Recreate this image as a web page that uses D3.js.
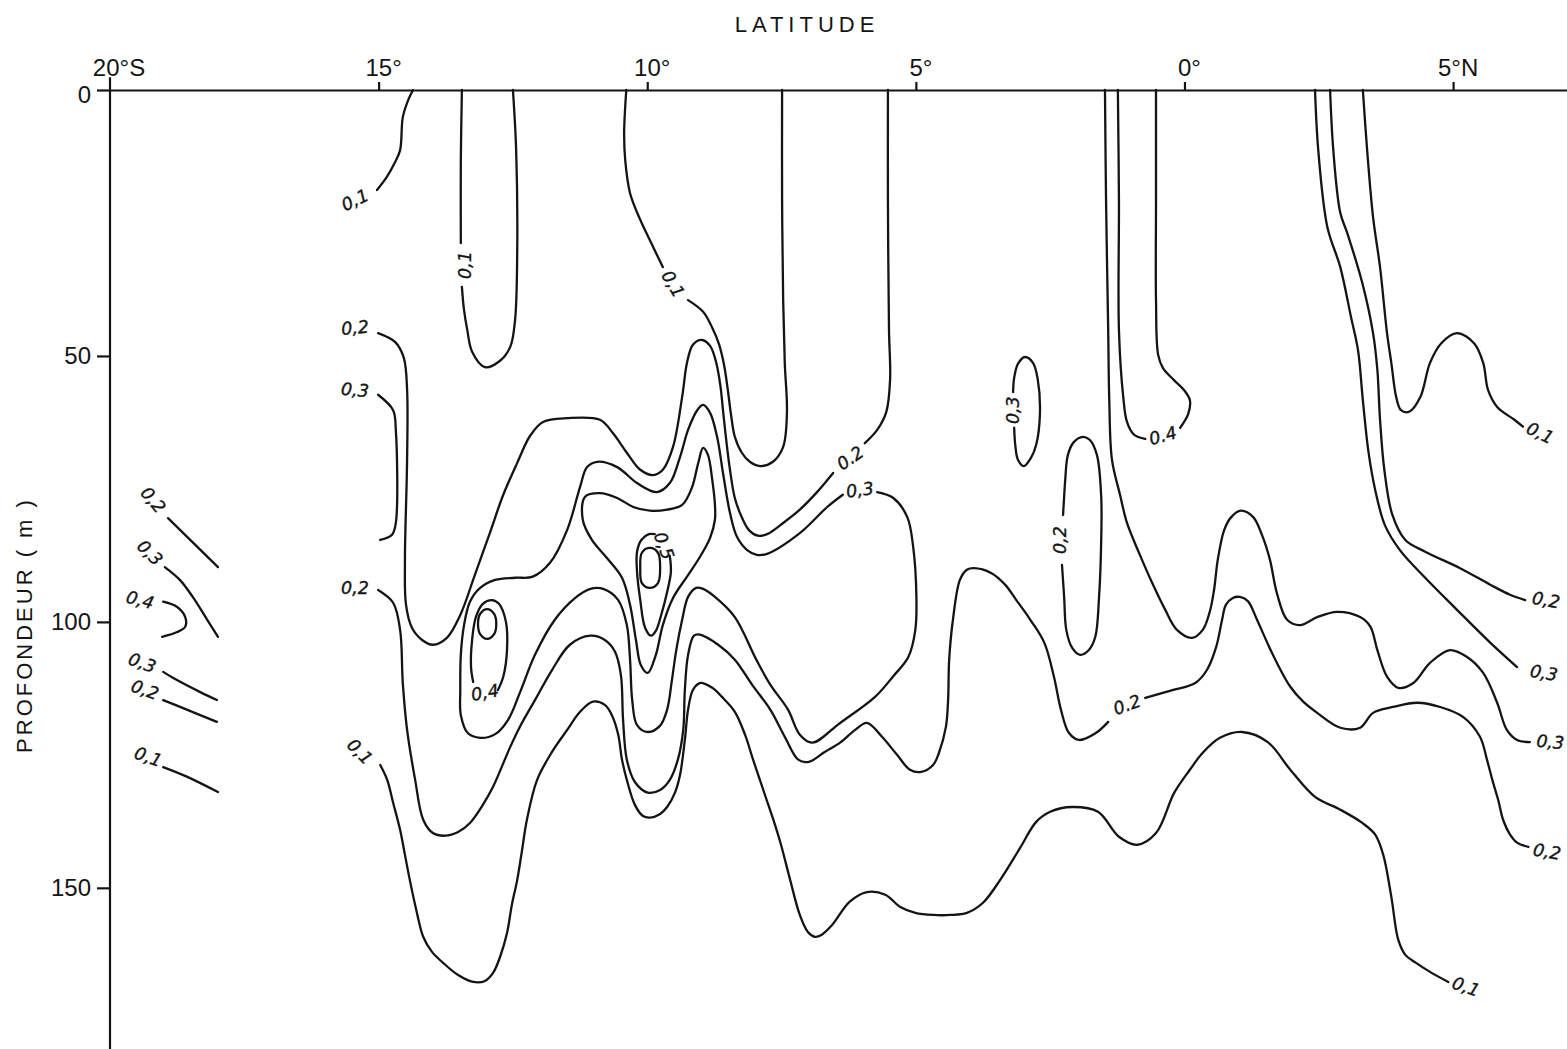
<!DOCTYPE html>
<html>
<head>
<meta charset="utf-8">
<script src="https://cdn.jsdelivr.net/npm/d3@7"></script>
<style>
  html, body { margin: 0; background: #fff; }
  svg { display: block; }
</style>
</head>
<body>
<svg id="chart" width="1567" height="1049"></svg>
<script>
// ---- axes ---------------------------------------------------------------
// latitude in degrees (negative = south), depth in metres
const latTicks = [-20, -15, -10, -5, 0, 5];
const latTickLabels = ["20°S", "15°", "10°", "5°", "0°", "5°N"];
const depthTicks = [0, 50, 100, 150];
const depthTickLabels = ["0", "50", "100", "150"];

// ---- isolines: [latitude, depth] vertices -------------------------------
// 0,1 tongue reaching the surface near 15°S
const iso01_a = [[-14.36,0],[-14.45,1.9],[-14.55,5.1],[-14.60,11.3],[-14.70,13.7],[-14.85,16.4],[-15.03,18.8]];
// narrow 0,1 tongue near 13°S (two pieces either side of its label)
const iso01_b1 = [[-13.45,0],[-13.47,13.2],[-13.47,28.8]];
const iso01_b2 = [[-13.45,37.0],[-13.41,41.4],[-13.35,45.1],[-13.26,49.2],[-13.02,52.1],[-12.74,50.9],[-12.55,48.3],[-12.46,43.2],[-12.42,30.1],[-12.44,11.3],[-12.50,0]];
// 0,1 tongue near 10°S
const iso01_c1 = [[-10.39,0],[-10.43,8.1],[-10.41,13.2],[-10.32,19.4],[-10.13,24.4],[-9.89,29.5],[-9.71,33.3]];
const iso01_c2 = [[-9.24,39.5],[-8.96,41.7],[-8.79,44.7],[-8.66,47.9],[-8.57,51.7],[-8.50,56.4],[-8.44,61.1],[-8.37,65.2],[-8.24,68.2],[-8.09,69.9],[-7.90,70.7],[-7.66,69.9],[-7.47,67.1],[-7.40,60.7],[-7.44,51.3],[-7.47,39.5],[-7.49,20.7],[-7.49,0]];
// deep 0,1 isoline running across the section
const iso01_deep = [[-14.97,126.9],[-14.84,129.7],[-14.73,134.0],[-14.60,139.1],[-14.51,143.8],[-14.42,148.5],[-14.30,154.1],[-14.17,159.2],[-14.01,162.0],[-13.80,164.1],[-13.52,166.4],[-13.24,167.7],[-13.02,167.5],[-12.87,166.0],[-12.74,163.0],[-12.61,158.5],[-12.52,153.2],[-12.42,148.5],[-12.33,142.9],[-12.24,137.2],[-12.05,129.7],[-11.77,124.4],[-11.49,120.3],[-11.25,116.9],[-11.01,115.0],[-10.79,115.6],[-10.66,117.5],[-10.54,121.2],[-10.47,125.9],[-10.38,129.7],[-10.23,134.4],[-10.08,136.5],[-9.95,136.8],[-9.76,136.1],[-9.63,134.8],[-9.48,132.0],[-9.39,128.8],[-9.30,122.2],[-9.24,116.5],[-9.15,112.8],[-9.02,111.5],[-8.79,112.4],[-8.61,114.1],[-8.37,116.9],[-8.18,121.2],[-8.03,125.9],[-7.81,132.5],[-7.62,138.2],[-7.51,141.9],[-7.34,148.5],[-7.16,155.1],[-7.01,158.3],[-6.88,159.2],[-6.75,158.8],[-6.56,157.0],[-6.23,152.6],[-5.91,150.8],[-5.57,151.3],[-5.29,153.6],[-5.01,154.7],[-4.68,155.1],[-4.36,155.1],[-4.05,154.7],[-3.75,152.8],[-3.43,148.5],[-3.06,142.5],[-2.76,137.6],[-2.50,135.7],[-2.09,134.8],[-1.61,135.7],[-1.22,140.4],[-0.88,141.9],[-0.53,139.7],[-0.19,132.1],[0.10,127.8],[0.34,124.6],[0.66,121.8],[1.07,120.7],[1.55,122.6],[1.97,127.8],[2.43,132.9],[2.90,135.3],[3.31,137.8],[3.55,140.0],[3.70,143.8],[3.85,151.7],[3.98,159.8],[4.11,162.6],[4.31,164.1],[4.57,165.8],[4.91,167.7]];
// 0,1 isoline north of the equator
const iso01_north = [[3.32,0],[3.40,11.3],[3.51,23.9],[3.64,33.3],[3.77,45.7],[3.85,51.3],[3.94,57.7],[4.03,60.2],[4.18,60.5],[4.39,57.7],[4.57,51.3],[4.78,47.6],[5.07,45.7],[5.39,47.6],[5.56,51.3],[5.65,56.4],[5.82,59.6],[6.14,62.0],[6.30,63.3]];

// upper 0,2 isoline (15°S to 5°S), split at its label
const iso02_a1 = [[-15.01,45.7],[-14.69,47.4],[-14.53,50.4],[-14.47,56.4],[-14.47,69.5],[-14.51,88.3],[-14.49,96.8],[-14.38,101.1],[-14.19,103.4],[-13.99,104.3],[-13.73,103.0],[-13.48,98.7],[-13.21,91.2],[-12.93,83.3],[-12.68,76.1],[-12.42,70.1],[-12.18,65.0],[-11.94,62.4],[-11.49,61.7],[-10.88,62.0],[-10.64,64.5],[-10.38,68.2],[-10.13,71.4],[-9.89,72.4],[-9.71,71.4],[-9.52,67.1],[-9.35,57.7],[-9.26,51.3],[-9.15,47.9],[-8.98,47.0],[-8.83,48.1],[-8.72,51.1],[-8.64,55.5],[-8.59,60.2],[-8.53,65.8],[-8.46,71.4],[-8.37,76.7],[-8.25,80.1],[-8.11,82.7],[-7.94,83.8],[-7.77,83.5],[-7.47,81.4],[-7.16,78.9],[-6.84,75.6],[-6.54,72.0]];
const iso02_a2 = [[-5.95,66.4],[-5.72,63.9],[-5.55,60.5],[-5.48,54.5],[-5.50,45.1],[-5.52,20.7],[-5.52,0]];
// lower 0,2 isoline crossing the whole section, split at its label near 1°S
const iso02_b1 = [[-15.01,94.0],[-14.73,96.4],[-14.60,101.5],[-14.55,111.5],[-14.47,120.3],[-14.32,129.7],[-14.17,137.2],[-13.99,139.7],[-13.76,140.2],[-13.52,139.5],[-13.30,137.8],[-13.06,134.4],[-12.87,131.0],[-12.55,123.5],[-12.37,119.7],[-12.09,114.7],[-11.77,109.0],[-11.44,104.3],[-11.06,102.6],[-10.79,103.4],[-10.60,105.6],[-10.49,110.0],[-10.45,118.4],[-10.38,125.9],[-10.23,130.1],[-9.99,132.1],[-9.76,131.6],[-9.58,129.7],[-9.43,125.9],[-9.33,120.3],[-9.30,112.8],[-9.24,106.2],[-9.13,102.6],[-9.02,102.4],[-8.68,104.3],[-8.37,107.1],[-8.05,111.8],[-7.71,116.5],[-7.43,121.8],[-7.19,125.9],[-6.99,126.3],[-6.69,124.4],[-6.41,122.7],[-6.13,120.3],[-5.91,119.0],[-5.63,121.6],[-5.35,125.0],[-5.11,127.8],[-4.90,128.2],[-4.68,126.9],[-4.57,124.6],[-4.44,119.7],[-4.40,114.7],[-4.38,107.1],[-4.31,99.6],[-4.18,92.1],[-4.05,90.2],[-3.92,89.9],[-3.60,90.8],[-3.34,93.0],[-3.13,95.9],[-2.87,99.6],[-2.61,103.9],[-2.43,110.3],[-2.30,116.5],[-2.15,120.9],[-1.96,122.2],[-1.65,120.9],[-1.42,118.8]];
const iso02_b2 = [[-0.73,114.3],[-0.21,112.8],[0.20,111.5],[0.42,109.0],[0.59,104.7],[0.70,99.6],[0.77,96.8],[0.90,95.5],[1.03,95.3],[1.18,96.1],[1.35,99.6],[1.54,103.9],[1.74,108.1],[1.97,112.2],[2.21,115.0],[2.47,117.1],[2.90,119.9],[3.27,119.9],[3.51,117.1],[3.88,116.0],[4.33,115.2],[4.76,116.0],[5.19,117.9],[5.50,121.6],[5.63,125.9],[5.73,129.7],[5.84,133.5],[5.93,137.2],[6.06,140.0],[6.19,141.5],[6.40,142.3]];
// 0,2 closed cell near 2°S (open where its label sits)
const iso02_cell = [[-2.28,89.3],[-2.24,95.3],[-2.20,101.5],[-2.09,104.9],[-1.94,106.2],[-1.78,105.3],[-1.66,102.8],[-1.59,95.3],[-1.55,84.6],[-1.55,76.5],[-1.63,68.6],[-1.76,65.8],[-1.89,65.2],[-2.06,66.2],[-2.17,68.6],[-2.22,73.3],[-2.26,79.9]];
// 0,2 isoline north of the equator
const iso02_north = [[2.71,0],[2.77,11.3],[2.90,23.1],[3.03,26.9],[3.31,36.3],[3.51,45.7],[3.59,52.6],[3.64,62.0],[3.72,71.4],[3.87,79.9],[4.11,84.6],[4.48,86.8],[5.13,89.9],[5.69,93.0],[6.06,94.9],[6.34,95.9]];

// 0,3 bracket near 15°S
const iso03_bracket = [[-15.01,57.3],[-14.73,60.2],[-14.68,63.9],[-14.68,81.4],[-14.75,83.6],[-14.97,84.6]];
// large 0,3 contour of the central maximum (open at its label near 6°S)
const iso03_main = [[-5.72,75.6],[-5.42,76.7],[-5.16,80.3],[-5.05,85.9],[-4.99,95.3],[-5.01,101.5],[-5.14,106.6],[-5.42,110.2],[-5.76,114.1],[-6.41,119.0],[-6.93,122.7],[-7.16,121.2],[-7.38,116.5],[-7.71,111.8],[-7.97,107.1],[-8.37,99.1],[-8.74,95.3],[-8.96,93.8],[-9.09,93.6],[-9.24,95.3],[-9.35,99.6],[-9.46,105.3],[-9.54,110.9],[-9.63,116.5],[-9.76,119.5],[-9.99,120.7],[-10.19,119.4],[-10.28,114.7],[-10.32,107.1],[-10.38,100.6],[-10.54,95.9],[-10.82,93.8],[-11.06,93.8],[-11.34,95.5],[-11.72,99.6],[-12.09,106.2],[-12.37,113.3],[-12.59,118.4],[-12.83,121.1],[-13.11,121.8],[-13.34,120.9],[-13.47,117.5],[-13.48,112.8],[-13.47,106.2],[-13.41,100.6],[-13.30,96.2],[-13.11,93.6],[-12.83,92.1],[-12.46,91.7],[-12.13,91.5],[-11.81,88.9],[-11.49,82.7],[-11.25,74.6],[-11.12,70.9],[-10.93,69.9],[-10.56,70.9],[-10.19,73.9],[-9.82,75.6],[-9.58,73.9],[-9.39,69.0],[-9.24,63.9],[-9.07,60.2],[-8.96,59.2],[-8.83,60.7],[-8.70,65.2],[-8.59,72.0],[-8.46,79.5],[-8.33,84.0],[-8.14,86.5],[-7.96,87.4],[-7.77,87.2],[-7.16,83.3],[-6.65,78.4],[-6.36,76.1]];
// small 0,3 cell near 3°S (open where its label sits)
const iso03_cell = [[-3.17,63.5],[-3.15,66.7],[-3.10,69.5],[-2.99,70.7],[-2.86,69.2],[-2.76,66.7],[-2.69,60.7],[-2.73,54.5],[-2.82,51.3],[-2.97,50.2],[-3.10,51.5],[-3.17,54.1],[-3.19,56.8]];
// 0,3 isoline descending from the surface near 1.5°S
const iso03_eq = [[-1.48,0],[-1.46,20.7],[-1.42,45.1],[-1.40,58.3],[-1.35,69.5],[-1.20,76.1],[-1.07,81.4],[-0.83,87.4],[-0.60,92.7],[-0.36,97.7],[-0.14,101.5],[0.14,103.0],[0.34,101.5],[0.47,98.1],[0.55,94.0],[0.62,88.3],[0.74,82.7],[0.87,80.3],[1.05,79.1],[1.28,80.3],[1.44,83.6],[1.59,88.3],[1.72,94.6],[1.91,99.6],[2.15,100.6],[2.47,99.1],[2.84,98.1],[3.27,99.1],[3.46,100.9],[3.59,105.3],[3.77,110.3],[3.98,112.4],[4.26,111.5],[4.57,107.7],[4.94,105.3],[5.26,106.6],[5.56,109.6],[5.82,115.2],[6.00,120.3],[6.19,122.2],[6.43,122.6]];
// 0,3 isoline north of the equator
const iso03_north = [[2.43,0],[2.49,11.3],[2.66,25.8],[2.90,33.3],[3.10,42.7],[3.23,48.9],[3.32,58.3],[3.42,67.7],[3.55,75.2],[3.73,81.8],[4.01,86.5],[4.48,91.7],[5.04,97.4],[5.69,103.9],[6.19,108.5]];

// 0,4 contours
const iso04_core = [[-11.16,76.5],[-10.88,75.8],[-10.56,76.7],[-10.26,78.4],[-9.95,79.1],[-9.63,78.9],[-9.35,78.0],[-9.17,74.8],[-9.05,70.1],[-8.96,67.3],[-8.87,68.6],[-8.79,73.3],[-8.74,78.0],[-8.74,80.8],[-8.83,84.2],[-9.02,87.8],[-9.26,91.5],[-9.52,95.5],[-9.71,100.6],[-9.84,106.2],[-9.99,109.6],[-10.12,108.1],[-10.21,103.4],[-10.32,96.8],[-10.47,91.7],[-10.75,88.0],[-11.03,84.6],[-11.20,80.8]];
const iso04_cellW = [[-12.78,112.8],[-12.68,110.3],[-12.61,105.3],[-12.63,100.0],[-12.76,96.6],[-12.89,95.9],[-13.06,96.6],[-13.19,99.1],[-13.26,103.4],[-13.28,108.5],[-13.24,111.3]];
const iso04_cellWinner = [[-12.98,97.6],[-12.85,98.5],[-12.81,100.4],[-12.85,102.3],[-12.98,103.2],[-13.11,102.3],[-13.15,100.4],[-13.11,98.5]];
const iso04_eq = [[-1.24,0],[-1.22,20.7],[-1.22,45.1],[-1.14,57.7],[-1.07,62.4],[-0.94,64.8],[-0.73,65.6]];
const iso04_eq2 = [[-0.08,63.5],[0.07,60.9],[0.10,58.3],[-0.01,56.4],[-0.20,54.5],[-0.40,52.3],[-0.49,49.8],[-0.53,39.5],[-0.53,20.7],[-0.53,0]];

// 0,5 contour and inner core
const iso05 = [[-9.58,87.6],[-9.56,90.6],[-9.63,94.4],[-9.74,98.7],[-9.84,101.7],[-9.93,102.6],[-10.04,101.1],[-10.13,95.9],[-10.19,90.6],[-10.19,86.8],[-10.11,84.6],[-9.97,83.5],[-9.86,83.5]];
const iso05_inner = [[-9.95,86.1],[-9.80,87.0],[-9.76,89.9],[-9.80,92.7],[-9.95,93.6],[-10.10,92.7],[-10.13,89.9],[-10.10,87.0]];

// short isoline stubs at the western edge
const stubW02 = [[-18.92,80.5],[-17.99,89.7]];
const stubW03 = [[-18.98,89.7],[-18.70,92.1],[-18.46,95.3],[-18.19,99.6],[-17.99,102.8]];
const stubW04 = [[-19.01,96.2],[-18.75,97.2],[-18.60,99.1],[-18.60,100.9],[-18.75,101.9],[-19.03,102.8]];
const stubW03b = [[-19.01,109.4],[-18.83,110.5],[-18.32,113.2],[-18.01,114.7]];
const stubW02b = [[-19.01,114.7],[-18.57,116.5],[-18.01,118.8]];
const stubW01 = [[-19.01,127.3],[-18.57,129.1],[-17.99,132.0]];

const openLines = [iso01_a, iso01_b1, iso01_b2, iso01_c1, iso01_c2, iso01_deep, iso01_north,
  iso02_a1, iso02_a2, iso02_b1, iso02_b2, iso02_cell, iso02_north,
  iso03_bracket, iso03_main, iso03_cell, iso03_eq, iso03_north,
  iso04_cellW, iso04_eq, iso04_eq2, iso05,
  stubW02, stubW03, stubW04, stubW03b, stubW02b, stubW01];
const closedLines = [iso04_core, iso04_cellWinner, iso05_inner];

// isoline labels: text, latitude, depth, tilt (deg)
const labelText  = ["0,1","0,1","0,1","0,2","0,3","0,2","0,1","0.2","0,3","0,4","0,5","0,3","0,2","0.4","0.2","0,1","0,2","0,3","0,3","0,2","0,1","0,2","0,3","0,4","0,3","0,2","0,1"];
const labelLat   = [-15.44,-13.39,-9.52,-15.44,-15.44,-15.44,-15.35,-6.22,-6.04,-13.02,-9.69,-3.19,-2.32,-0.40,-1.07,6.62,6.73,6.69,6.81,6.75,5.24,-19.20,-19.26,-19.44,-19.40,-19.35,-19.29];
const labelDepth = [20.7,32.9,36.5,44.7,56.4,93.6,124.4,69.2,75.2,113.3,85.7,60.2,84.6,65.0,115.6,64.5,95.9,109.6,122.6,143.2,168.6,77.1,87.0,95.9,107.7,112.8,125.4];
const labelTilt  = [-25,-90,60,-5,5,0,45,-35,-8,-10,70,-90,-90,-15,-20,25,10,10,5,10,20,50,45,15,20,20,20];

// ---- drawing ------------------------------------------------------------
const svg = d3.select("#chart");
const x = d3.scaleLinear().domain([-20, 7.12]).range([110, 1567]);
const y = d3.scaleLinear().domain([0, 180.3]).range([90, 1049]);

const ink = "#141414";

const lineOpen = d3.line().x(d => x(d[0])).y(d => y(d[1])).curve(d3.curveCatmullRom.alpha(0.5));
const lineClosed = d3.line().x(d => x(d[0])).y(d => y(d[1])).curve(d3.curveCatmullRomClosed.alpha(0.5));

const g = svg.append("g");
g.selectAll("path.open").data(openLines).join("path")
  .attr("class", "open")
  .attr("d", lineOpen)
  .attr("fill", "none").attr("stroke", ink).attr("stroke-width", 2.3)
  .attr("stroke-linejoin", "round").attr("stroke-linecap", "round");
g.selectAll("path.closed").data(closedLines).join("path")
  .attr("class", "closed")
  .attr("d", lineClosed)
  .attr("fill", "none").attr("stroke", ink).attr("stroke-width", 2.3)
  .attr("stroke-linejoin", "round");

// isoline labels
g.selectAll("text.iso").data(labelText).join("text")
  .attr("class", "iso")
  .attr("transform", (t, i) => `translate(${x(labelLat[i])},${y(labelDepth[i])}) rotate(${labelTilt[i]})`)
  .attr("text-anchor", "middle")
  .attr("dominant-baseline", "central")
  .attr("font-family", "DejaVu Sans, sans-serif")
  .attr("font-style", "italic")
  .attr("font-size", 17.5)
  .attr("stroke", ink)
  .attr("stroke-width", 0.35)
  .attr("fill", ink)
  .text(t => t);

// latitude axis along the surface
const xAxis = d3.axisTop(x).tickValues(latTicks.slice(1)).tickSize(8).tickSizeOuter(0).tickFormat("");
const gx = svg.append("g").attr("transform", `translate(0,${y(0)})`).call(xAxis);
gx.selectAll("path, line").attr("stroke", ink).attr("stroke-width", 2.2);

svg.append("g").selectAll("text").data(latTicks).join("text")
  .attr("x", (d, i) => x(d) + (i === 0 ? 9 : 5))
  .attr("y", 76)
  .attr("text-anchor", "middle")
  .attr("font-family", "Liberation Sans, Arial, sans-serif")
  .attr("font-size", 24)
  .attr("fill", ink)
  .text((d, i) => latTickLabels[i]);

// depth axis
const yAxis = d3.axisLeft(y).tickValues(depthTicks).tickSize(13).tickSizeOuter(0).tickPadding(6)
  .tickFormat((d, i) => depthTickLabels[i]);
const gy = svg.append("g").attr("transform", `translate(${x(-20)},0)`).call(yAxis);
gy.select(".domain").remove();
gy.selectAll("line").attr("stroke", ink).attr("stroke-width", 2.2);
gy.selectAll("text").attr("font-family", "Liberation Sans, Arial, sans-serif").attr("font-size", 24).attr("fill", ink);
gy.selectAll(".tick").filter(d => d === 0).select("text").attr("dy", "0.5em");
svg.append("line")
  .attr("x1", x(-20)).attr("x2", x(-20))
  .attr("y1", y(-2.4)).attr("y2", y(180.3))
  .attr("stroke", ink).attr("stroke-width", 2.2);

// axis titles
svg.append("text")
  .attr("x", 807).attr("y", 32)
  .attr("text-anchor", "middle")
  .attr("font-family", "Liberation Sans, Arial, sans-serif")
  .attr("font-size", 22)
  .attr("letter-spacing", 5)
  .attr("fill", ink)
  .text("LATITUDE");
svg.append("text")
  .attr("transform", "translate(32,625) rotate(-90)")
  .attr("text-anchor", "middle")
  .attr("font-family", "Liberation Sans, Arial, sans-serif")
  .attr("font-size", 22)
  .attr("letter-spacing", 3)
  .attr("fill", ink)
  .text("PROFONDEUR ( m )");
</script>
</body>
</html>
